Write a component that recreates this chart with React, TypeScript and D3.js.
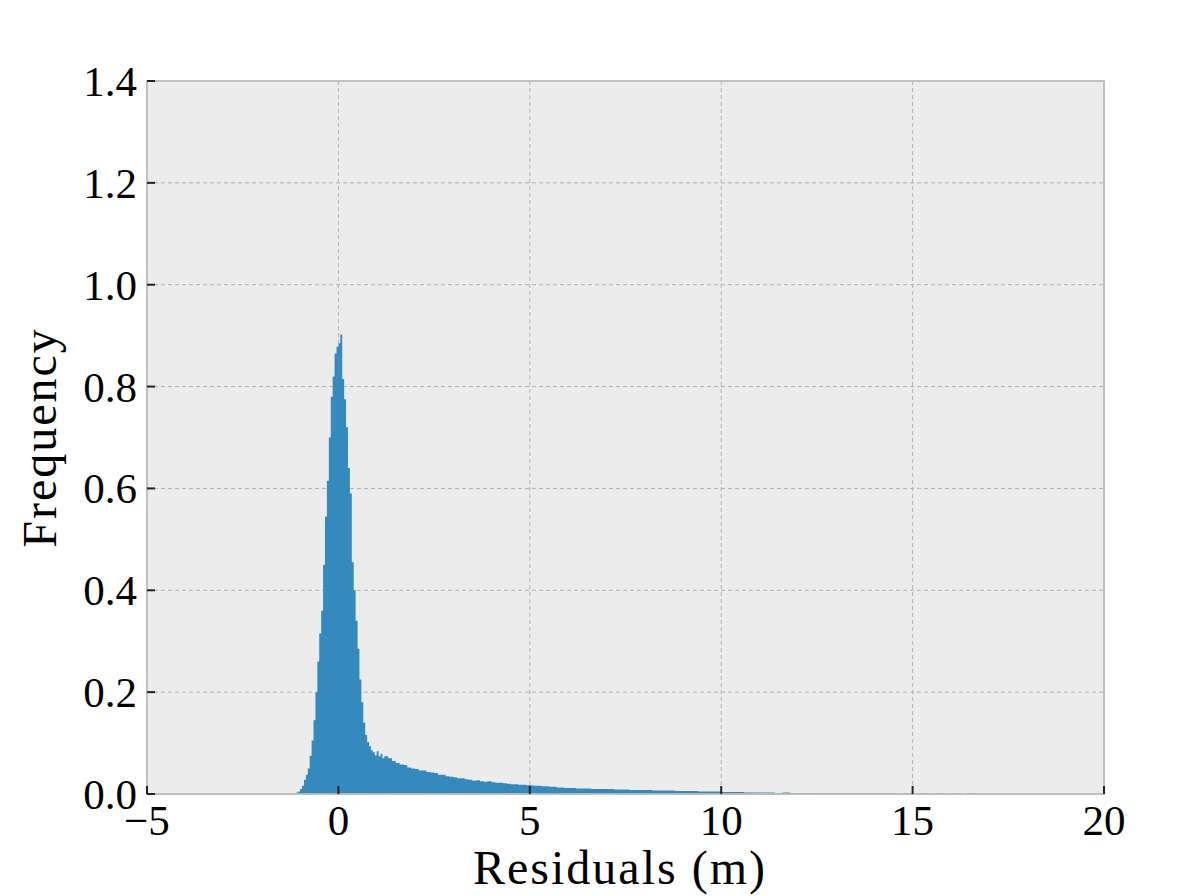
import React from 'react';
import * as d3 from 'd3';

// axis ticks
const xTicks = [-5, 0, 5, 10, 15, 20];
const xTickLabels = ['\u22125', '0', '5', '10', '15', '20'];
const yTicks = [0, 0.2, 0.4, 0.6, 0.8, 1.0, 1.2, 1.4];
const yTickLabels = ['0.0', '0.2', '0.4', '0.6', '0.8', '1.0', '1.2', '1.4'];

// histogram in three resolutions
const coreStart = -1.2;
const coreWidth = 0.05;
const coreFreq = [
  0.000, 0.001, 0.003, 0.005, 0.010, 0.016, 0.028, 0.038, 0.050, 0.075,
  0.105, 0.145, 0.200, 0.260, 0.315, 0.360, 0.450, 0.545, 0.615, 0.700,
  0.780, 0.820, 0.865, 0.878, 0.885, 0.902, 0.815, 0.775, 0.720, 0.640,
  0.590, 0.455, 0.400, 0.340, 0.285, 0.225, 0.180, 0.140, 0.116, 0.102,
  0.094, 0.086, 0.082, 0.076, 0.084, 0.074, 0.079, 0.070,
];

const tailStart = 1.2;
const tailWidth = 0.1;
const tailFreq = [
  0.074, 0.070, 0.065, 0.061, 0.058, 0.057, 0.052, 0.050, 0.049, 0.046,
  0.046, 0.043, 0.042, 0.041, 0.038, 0.038, 0.035, 0.034, 0.033, 0.031,
  0.031, 0.029, 0.028, 0.026, 0.027, 0.025, 0.024, 0.025, 0.023, 0.022,
  0.022, 0.021, 0.020, 0.019, 0.019, 0.018, 0.018, 0.017, 0.017, 0.016,
  0.016, 0.015, 0.015, 0.014, 0.014, 0.013, 0.013, 0.012,
];

const farStart = 6.0;
const farWidth = 0.2;
const farFreq = [
  0.012, 0.011, 0.011, 0.010, 0.010, 0.010, 0.009, 0.009, 0.008, 0.008,
  0.008, 0.007, 0.007, 0.007, 0.006, 0.006, 0.006, 0.005, 0.005, 0.005,
  0.004, 0.004, 0.004, 0.003, 0.003, 0.003, 0.003, 0.002, 0.003, 0.002,
  0.002, 0.002, 0.002, 0.001, 0.002, 0.001, 0.001, 0.001, 0.002, 0.001,
  0.001, 0.001, 0.001, 0.000, 0.002, 0.000, 0.001, 0.000, 0.002, 0.000,
  0.001, 0.000, 0.002, 0.000, 0.000, 0.000,
];

const toBins = (start: number, width: number, freq: number[]) =>
  freq.map((f, i) => ({ x0: start + i * width, x1: start + (i + 1) * width, f }));

const bins = [
  ...toBins(coreStart, coreWidth, coreFreq),
  ...toBins(tailStart, tailWidth, tailFreq),
  ...toBins(farStart, farWidth, farFreq),
];

const W = 1196;
const H = 896;
const left = 147;
const right = 1104;
const top = 81;
const bottom = 794;

const font = '"Liberation Serif", "Times New Roman", serif';

export default function App() {
  const x = d3.scaleLinear().domain([-5, 20]).range([left, right]);
  const y = d3.scaleLinear().domain([0, 1.4]).range([bottom, top]);

  const pts: [number, number][] = bins.map(b => [b.x0, b.f]);
  pts.push([bins[bins.length - 1].x1, 0]);

  const area = d3.area<[number, number]>()
    .x(d => x(d[0]))
    .y0(y(0))
    .y1(d => y(d[1]))
    .curve(d3.curveStepAfter);

  return (
    <svg width={W} height={H} style={{ position: 'absolute', left: 0, top: 0, display: 'block' }}>
      <rect x={0} y={0} width={W} height={H} fill="#ffffff" />
      <rect x={left} y={top} width={right - left} height={bottom - top} fill="#ececec" />

      {/* grid */}
      {xTicks.map(t => (
        <line key={'gx' + t} x1={x(t)} x2={x(t)} y1={top} y2={bottom}
          stroke="#b2b2b2" strokeWidth={1} strokeDasharray="4,3" />
      ))}
      {yTicks.map(t => (
        <line key={'gy' + t} x1={left} x2={right} y1={y(t)} y2={y(t)}
          stroke="#b2b2b2" strokeWidth={1} strokeDasharray="4,3" />
      ))}

      <path d={area(pts) || ''} fill="#348ABD" />

      {/* spines */}
      <rect x={left} y={top} width={right - left} height={bottom - top}
        fill="none" stroke="#bcbcbc" strokeWidth={1.8} />

      {/* ticks, pointing inward */}
      {xTicks.map(t => (
        <line key={'tx' + t} x1={x(t)} x2={x(t)} y1={bottom} y2={bottom - 8}
          stroke="#222" strokeWidth={2} />
      ))}
      {yTicks.map(t => (
        <line key={'ty' + t} x1={left} x2={left + 8} y1={y(t)} y2={y(t)}
          stroke="#222" strokeWidth={2} />
      ))}

      {xTicks.map((t, i) => (
        <text key={'lx' + t} x={x(t)} y={835} textAnchor="middle"
          fontFamily={font} fontSize={43} fill="#000">{xTickLabels[i]}</text>
      ))}
      {yTicks.map((t, i) => (
        <text key={'ly' + t} x={137} y={y(t) + 15} textAnchor="end"
          fontFamily={font} fontSize={43} fill="#000">{yTickLabels[i]}</text>
      ))}

      <text x={620} y={884} textAnchor="middle" fontFamily={font} fontSize={48}
        letterSpacing={2} fill="#000">Residuals (m)</text>
      <text transform={`translate(56,${(top + bottom) / 2}) rotate(-90)`} textAnchor="middle"
        fontFamily={font} fontSize={48} letterSpacing={2} fill="#000">Frequency</text>
    </svg>
  );
}
